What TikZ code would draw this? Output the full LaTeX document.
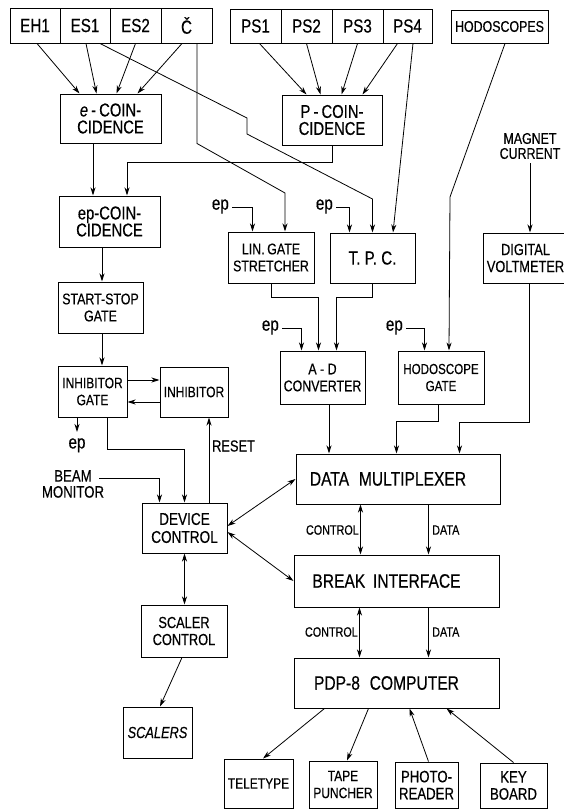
\documentclass[tikz,border=0pt]{standalone}
\usepackage{fontspec}
\setmainfont{Liberation Sans}[FakeStretch=0.8,FakeBold=0.4]
\usetikzlibrary{arrows.meta,calc}
\newcommand\fz[2]{\fontsize{#1}{#2}\selectfont}
\newcommand\mkbox[6][]{\node[box,#1,minimum width={#5-#3},minimum height={#6-#4}] (#2) at ({(#3+#5)/2},{(#4+#6)/2})}
\tikzset{ftip/.tip={Stealth[length=8pt,width=5pt,inset=2.5pt]}}
\begin{document}
\begin{tikzpicture}[x=1pt,y=-1pt,
  box/.style={draw, line width=1pt, inner sep=1pt, align=center},
  ln/.style={line width=0.8pt},
  arr/.style={ln,-ftip},
  dbl/.style={ln,ftip-ftip},
  lab/.style={inner sep=0pt, align=center},
  eplab/.style={inner sep=0pt, text height=1ex, text depth=0pt, font=\fz{19}{19}}]
\useasboundingbox (0,0) rectangle (563,809);
% top row
\mkbox[font=\fz{19}{19}]{EH1}{10}{8}{60}{43}{EH1};
\mkbox[font=\fz{19}{19}]{ES1}{60}{8}{110}{43}{ES1};
\mkbox[font=\fz{19}{19}]{ES2}{110}{8}{161}{43}{ES2};
\mkbox[font=\fz{19}{19}]{CC}{161}{8}{212}{43}{Č};
\mkbox[font=\fz{19}{19}]{PS1}{230}{9}{281}{43}{PS1};
\mkbox[font=\fz{19}{19}]{PS2}{281}{9}{332}{43}{PS2};
\mkbox[font=\fz{19}{19}]{PS3}{332}{9}{383}{43}{PS3};
\mkbox[font=\fz{19}{19}]{PS4}{383}{9}{432}{43}{PS4};
\mkbox[font=\fz{15.5}{16}]{HODO}{451}{10}{548}{43}{HODOSCOPES};
% coincidences
\mkbox[font=\fz{18.5}{17}]{ecoin}{60}{94}{161}{143}{{\itshape e}\,-\,COIN-\\CIDENCE};
\mkbox[font=\fz{18.5}{17}]{pcoin}{282}{95}{382}{145}{P\,-\,COIN-\\CIDENCE};
\node[lab,font=\fz{15.5}{15}] (mc) at (530,146) {MAGNET\\CURRENT};
\mkbox[font=\fz{18.5}{17}]{epcoin}{59}{196}{160}{247}{ep-COIN-\\CIDENCE};
\mkbox[font=\fz{15.5}{17}]{lgs}{228}{232}{314}{283}{LIN.\,GATE\\STRETCHER};
\mkbox[font=\fz{19}{19}]{tpc}{330}{233}{415}{283}{T. P. C.};
\mkbox[font=\fz{16}{17}]{dvm}{483}{233}{568}{283}{DIGITAL\\VOLTMETER};
\mkbox[font=\fz{15.5}{17}]{ssg}{58}{282}{143}{333}{START-STOP\\GATE};
\mkbox[font=\fz{15.5}{17}]{adc}{280}{351}{365}{404}{A - D\\CONVERTER};
\mkbox[font=\fz{14.5}{17}]{hgate}{398}{351}{484}{404}{HODOSCOPE\\GATE};
\mkbox[font=\fz{15}{17}]{igate}{58}{366}{127}{417}{INHIBITOR\\GATE};
\mkbox[font=\fz{15}{17}]{inh}{160}{367}{228}{417}{INHIBITOR};
\mkbox[font=\fz{17}{18}]{devctl}{142}{503}{227}{553}{DEVICE\\CONTROL};
\mkbox[font=\fz{19.5}{20}]{dmux}{296}{454}{500}{504}{DATA\hspace{0.5em}MULTIPLEXER\hspace*{20pt}};
\mkbox[font=\fz{19.5}{20}]{bint}{294}{555}{499}{607}{BREAK\hspace{0.4em}INTERFACE\hspace*{20pt}};
\mkbox[font=\fz{19.5}{20}]{pdp}{294}{658}{499}{708}{PDP-8\hspace{0.5em}COMPUTER\hspace*{20pt}};
\mkbox[font=\fz{16}{17}]{sctl}{141}{605}{227}{657}{SCALER\\CONTROL};
\mkbox[font=\fz{16}{17}\itshape]{scal}{123}{707}{192}{758}{SCALERS};
\mkbox[font=\fz{15}{17}]{tele}{224}{759}{293}{808}{TELETYPE};
\mkbox[font=\fz{15}{17}]{tape}{309}{761}{377}{808}{TAPE\\PUNCHER};
\mkbox[font=\fz{16.5}{17}]{photo}{395}{762}{458}{808}{PHOTO-\\READER};
\mkbox[font=\fz{16.5}{17}]{key}{480}{763}{547}{808}{KEY\\BOARD};
% labels
\node[eplab,anchor=east] (ep1) at (229,207) {ep};
\node[eplab,anchor=east] (ep2) at (333,207) {ep};
\node[eplab,anchor=east] (ep3) at (279,328) {ep};
\node[eplab,anchor=east] (ep4) at (403,328) {ep};
\node[eplab,anchor=north] (ep5) at (77,443) {ep};
\node[lab,font=\fz{16.5}{16}] (bm) at (73,484) {BEAM\\MONITOR};
\node[lab,font=\fz{16}{16},anchor=west] (reset) at (212,446) {RESET};
\node[lab,font=\fz{13.5}{14},anchor=east] (ctl1) at (359,530) {CONTROL};
\node[lab,font=\fz{13.5}{14},anchor=west] (dat1) at (432,530) {DATA};
\node[lab,font=\fz{13.5}{14},anchor=east] (ctl2) at (358,632) {CONTROL};
\node[lab,font=\fz{13.5}{14},anchor=west] (dat2) at (432,632) {DATA};
% detectors to coincidences
\draw[arr] ($(EH1.south)+(2,0)$) -- ($(ecoin.north west)+(20,0)$);
\draw[arr] ($(ES1.south)+(1,0)$) -- ($(ecoin.north west)+(37,0)$);
\draw[arr] (ES2.south) -- ($(ecoin.north west)+(57,0)$);
\draw[arr] ($(CC.south)+(-4.5,0)$) -- ($(ecoin.north west)+(78,0)$);
\draw[arr] ($(ES1.south)+(15,0)$) -- (247,118) -- (247,134) -- (372.5,199) -- (tpc.north);
\draw[arr] ($(CC.south)+(10.5,0)$) -- ++(0,100) -- (285,193) -- ($(lgs.north)+(14,0)$);
\draw[arr] ($(PS1.south)+(4,0)$) -- ($(pcoin.north west)+(25,0)$);
\draw[arr] (PS2.south) -- ($(pcoin.north west)+(39,0)$);
\draw[arr] (PS3.south) -- ($(pcoin.north west)+(60,0)$);
\draw[arr] ($(PS4.south)+(-10,0)$) -- ($(pcoin.north west)+(81,0)$);
\draw[arr] ($(PS4.south)+(5.5,0)$) -- ($(tpc.north)+(20.5,0)$);
\draw[arr] ($(HODO.south)+(5.5,0)$) -- (450,197) -- ($(hgate.north)+(8,0)$);
\draw[arr,shorten <=4pt] (mc.south) -- (mc.south |- dvm.north);
% coincidence chain
\draw[arr] ($(ecoin.south)+(-17.5,0)$) coordinate (t1) -- (t1 |- epcoin.north);
\draw[arr] (pcoin.south) -- ++(0,17) -| ($(epcoin.north)+(17.5,0)$);
\path ($(ssg.north)+(1.5,0)$) coordinate (t2);
\draw[arr] (t2 |- epcoin.south) -- (t2);
\draw[arr] ($(ssg.south)+(1.5,0)$) coordinate (t3) -- (t3 |- igate.north);
% ep gates
\draw[arr] ([xshift=3pt]ep1.east) -| ($(lgs.north west)+(25,0)$);
\draw[arr] ([xshift=3pt]ep2.east) -| ($(tpc.north west)+(20,0)$);
\draw[arr] (lgs.south) -- ++(0,14) -| ($(adc.north west)+(39,0)$);
\draw[arr] (tpc.south) -- ++(0,14) -| ($(adc.north west)+(57,0)$);
\draw[arr] ([xshift=3pt]ep3.east) -| ($(adc.north west)+(22,0)$);
\draw[arr] ([xshift=3pt]ep4.east) -| ($(hgate.north west)+(27,0)$);
% to multiplexer
\draw[arr] ($(adc.south)+(6.5,0)$) coordinate (t4) -- (t4 |- dmux.north);
\draw[arr] ($(hgate.south)+(-3,0)$) -- ++(0,17) -| ($(dmux.north west)+(101,0)$);
\draw[arr] ($(dvm.south west)+(47,0)$) -- ++(0,139) -| ($(dmux.north west)+(164,0)$);
% multiplexer, interface, computer
\draw[dbl] ($(dmux.south west)+(65,0)$) coordinate (t5) -- (t5 |- bint.north);
\draw[arr] ($(dmux.south west)+(133,0)$) coordinate (t6) -- (t6 |- bint.north);
\draw[dbl] ($(bint.south west)+(66,0)$) coordinate (t7) -- (t7 |- pdp.north);
\draw[arr] ($(bint.south west)+(135,0)$) coordinate (t8) -- (t8 |- pdp.north);
\draw[arr] ($(pdp.south west)+(31,0)$) -- ($(tele.north)+(4.5,0)$);
\draw[arr] ($(pdp.south west)+(75,0)$) -- ($(tape.north)+(4,0)$);
\draw[arr] ($(photo.north)+(2,0)$) -- ($(pdp.south west)+(116,0)$);
\draw[arr] (key.north) -- ($(pdp.south west)+(153,0)$);
% inhibitor and device control
\draw[arr] ($(igate.east)+(0,-11.5)$) coordinate (t9) -- (t9 -| inh.west);
\draw[arr] ($(inh.west)+(0,10)$) coordinate (t10) -- (t10 -| igate.east);
\draw[arr,shorten >=11pt] ($(igate.south)+(-15.5,0)$) -- (ep5.north);
\draw[arr] ($(igate.south)+(14.5,0)$) -- ++(0,32) -| (devctl.north);
\draw[arr] ($(bm.north east)+(-5,8)$) -| ($(devctl.north west)+(18,0)$);
\draw[arr] ($(devctl.north)+(24.5,0)$) coordinate (t11) -- (t11 |- inh.south);
\draw[dbl] ($(devctl.east)+(0,-2)$) -- (dmux.west);
\draw[dbl] ($(devctl.east)+(0,4)$) -- (bint.west);
\draw[dbl] (devctl.south) -- (devctl.south |- sctl.north);
\draw[arr] ($(sctl.south)+(-2,0)$) -- ($(scal.north)+(2.5,0)$);
\end{tikzpicture}
\end{document}
